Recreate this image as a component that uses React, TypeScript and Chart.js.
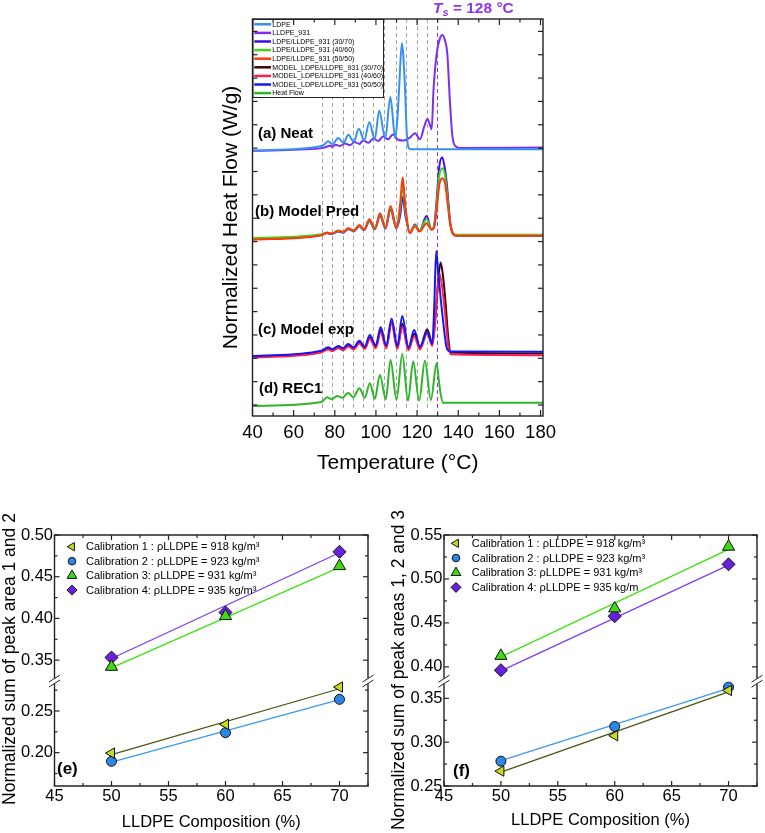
import { useEffect, useRef } from 'react';
import { Chart, registerables } from 'chart.js';

Chart.register(...registerables);

const FONT = "'Liberation Sans', Arial, Helvetica, sans-serif";

type Pt = [number, number];

// ---------- DSC melting traces: temperature (°C) vs stacked heat flow (offset units) ----------
const ldpe: Pt[] = [
  [40, 11.36], [73.0, 11.55], [74.8, 11.62], [76.8, 11.76], [78.8, 11.64], [81.7, 11.9], [84.2, 11.7],
  [86.6, 12.04], [89.2, 11.74], [91.7, 12.3], [94.3, 11.8], [96.8, 12.58], [99.4, 11.84], [101.6, 13.08],
  [104.5, 11.88], [107.0, 13.66], [109.4, 11.9], [110.4, 12.68], [111.3, 14.1], [112.6, 15.96], [114.1, 14.1],
  [114.9, 12.25], [115.7, 11.53], [117.0, 11.42], [181.2, 11.42],
];
const lldpe931: Pt[] = [
  [40, 11.36], [73.0, 11.46], [75.0, 11.5], [77.5, 11.57], [79.0, 11.53], [80.3, 11.62], [82.5, 11.56],
  [85.0, 11.67], [87.4, 11.6], [89.6, 11.73], [92.0, 11.65], [93.8, 11.8], [96.4, 11.7], [98.7, 11.88],
  [101.2, 11.78], [103.4, 11.97], [105.9, 11.85], [108.2, 12.05], [111.0, 11.82], [113.5, 11.8], [116.5, 11.92],
  [119.0, 12.11], [121.4, 11.85], [123.5, 12.4], [125.0, 12.72], [126.3, 12.45], [127.1, 12.28], [128.0, 14.0],
  [129.5, 15.5], [131.0, 16.15], [132.3, 16.32], [133.5, 16.1], [134.7, 15.5], [136.0, 13.4], [137.2, 11.96],
  [139.0, 11.53], [141.0, 11.48], [181.2, 11.5],
];
const pred3070: Pt[] = [
  [40, 7.57], [73.5, 7.75], [76.3, 7.84], [78.2, 7.79], [81.7, 7.9], [84.0, 7.85], [86.5, 8.0], [89.2, 7.91],
  [91.9, 8.12], [94.3, 7.96], [96.8, 8.34], [99.5, 8.0], [102.0, 8.58], [104.6, 8.03], [107.1, 8.82], [110.0, 8.03],
  [111.8, 8.6], [113.0, 9.39], [114.3, 8.6], [116.5, 7.85], [118.9, 8.2], [121.2, 7.93], [124.6, 8.56], [127.0, 8.0],
  [128.2, 8.1], [129.5, 9.25], [130.8, 10.68], [132.2, 11.08], [133.5, 10.6], [134.4, 9.98], [136.0, 8.39],
  [137.3, 7.84], [139.0, 7.72], [181.2, 7.72],
];
const pred4060: Pt[] = [
  [40, 7.62], [73.5, 7.78], [76.3, 7.86], [78.2, 7.81], [81.7, 7.92], [84.0, 7.87], [86.5, 8.02], [89.2, 7.93],
  [91.9, 8.15], [94.3, 7.98], [96.8, 8.38], [99.5, 8.02], [102.0, 8.63], [104.6, 8.05], [107.1, 8.9], [110.0, 8.05],
  [111.8, 8.9], [113.0, 9.85], [114.3, 8.8], [116.5, 7.86], [118.9, 8.17], [121.2, 7.93], [124.6, 8.42], [127.0, 8.02],
  [128.2, 8.08], [129.5, 9.05], [130.8, 10.3], [132.3, 10.61], [133.6, 10.3], [134.5, 9.6], [136.0, 8.3],
  [137.3, 7.84], [139.0, 7.76], [181.2, 7.76],
];
const pred5050: Pt[] = [
  [40, 7.55], [73.5, 7.74], [76.3, 7.85], [78.2, 7.8], [81.7, 7.94], [84.0, 7.88], [86.5, 8.04], [89.2, 7.94],
  [91.9, 8.18], [94.3, 7.99], [96.8, 8.42], [99.5, 8.03], [102.0, 8.68], [104.6, 8.06], [107.1, 8.99], [110.0, 8.06],
  [111.8, 9.1], [113.0, 10.22], [114.3, 9.0], [116.5, 7.83], [118.9, 8.12], [121.2, 7.9], [124.6, 8.25], [127.0, 7.98],
  [128.2, 8.05], [129.5, 8.8], [130.8, 9.9], [132.3, 10.18], [133.6, 9.95], [134.6, 9.3], [136.1, 8.2],
  [137.4, 7.8], [139.0, 7.72], [181.2, 7.72],
];
const model3070: Pt[] = [
  [40, 2.54], [73.5, 2.76], [76.8, 2.89], [78.9, 2.82], [81.7, 2.95], [84.0, 2.86], [86.5, 3.02], [89.2, 2.89],
  [91.9, 3.14], [94.6, 2.92], [97.0, 3.36], [99.9, 2.96], [102.3, 3.66], [105.0, 2.96], [107.6, 4.02], [110.4, 2.93],
  [112.8, 3.95], [115.8, 2.88], [118.6, 3.52], [121.4, 2.92], [124.9, 3.72], [127.4, 3.12], [128.7, 4.0],
  [130.1, 5.6], [131.4, 6.57], [132.6, 6.0], [133.8, 4.9], [135.1, 3.4], [136.4, 2.72], [181.2, 2.68],
];
const model4060: Pt[] = [
  [40, 2.5], [73.5, 2.72], [76.8, 2.85], [78.9, 2.78], [81.7, 2.91], [84.0, 2.82], [86.5, 2.98], [89.2, 2.85],
  [91.9, 3.1], [94.6, 2.87], [97.0, 3.3], [99.9, 2.9], [102.3, 3.58], [105.0, 2.9], [107.6, 3.97], [110.4, 2.87],
  [112.8, 3.82], [115.8, 2.82], [118.6, 3.4], [121.4, 2.85], [124.9, 3.54], [127.4, 3.0], [128.5, 3.8],
  [129.8, 5.3], [130.9, 6.1], [132.2, 5.5], [133.6, 4.4], [135.0, 3.1], [136.4, 2.64], [181.2, 2.6],
];
const model5050: Pt[] = [
  [40, 2.57], [73.5, 2.8], [76.8, 2.94], [78.9, 2.86], [81.7, 3.0], [84.0, 2.9], [86.5, 3.08], [89.2, 2.94],
  [91.9, 3.22], [94.6, 2.97], [97.0, 3.47], [99.9, 3.02], [102.3, 3.8], [105.0, 3.02], [107.6, 4.18], [110.4, 3.0],
  [112.8, 4.28], [115.8, 2.94], [118.6, 3.68], [121.4, 2.97], [124.9, 3.61], [127.4, 3.1], [128.3, 4.6],
  [129.3, 7.07], [130.3, 6.1], [131.5, 5.0], [132.6, 4.1], [134.3, 2.95], [136.0, 2.76], [181.2, 2.75],
];
const rec1: Pt[] = [
  [40, 0.43], [73.5, 0.6], [76.3, 0.8], [78.4, 0.72], [81.2, 0.86], [83.8, 0.78], [86.5, 1.0], [89.0, 0.8],
  [91.9, 1.19], [94.6, 0.78], [97.0, 1.4], [99.5, 0.74], [101.9, 1.76], [104.8, 0.72], [107.1, 2.4], [110.0, 0.69],
  [112.8, 2.66], [115.6, 0.66], [118.1, 2.33], [121.0, 0.66], [123.8, 2.37], [126.7, 0.69], [129.5, 2.26],
  [130.6, 1.5], [131.4, 0.97], [132.7, 0.56], [134.0, 0.57], [181.2, 0.57],
];

const curveLabels = [
  'LDPE', 'LLDPE_931', 'LDPE/LLDPE_931 (30/70)', 'LDPE/LLDPE_931 (40/60)', 'LDPE/LLDPE_931 (50/50)',
  'MODEL_LDPE/LLDPE_931 (30/70)', 'MODEL_LDPE/LLDPE_931 (40/60)', 'MODEL_LDPE/LLDPE_931 (50/50)', 'Heat Flow',
];
const curveSeries = [ldpe, lldpe931, pred3070, pred4060, pred5050, model3070, model4060, model5050, rec1];
const curveColors = ['#3590f3', '#7b2ff5', '#3d0cf2', '#46d21b', '#ff3a0a', '#3a0606', '#ff1f4f', '#1414ff', '#2fb52a'];
const curveOrder = [0, 1, 2, 1, 0, 2, 1, 0, 0];

const tempTicks = [40, 60, 80, 100, 120, 140, 160, 180];
const fractionTemps = [73.6, 78.5, 83.8, 88.7, 93.8, 98.7, 103.9, 109.6, 114.6, 119.8, 124.9];
const seedTemp = 129.8;
const flowTickStart = 0.47;
const panelTags = ['(a) Neat', '(b) Model Pred', '(c) Model exp', '(d) REC1'];

// ---------- peak-area sums vs LLDPE content ----------
const compositionPct = [50, 60, 70];
const fitEnds = [50, 70];
const compTicks = [45, 50, 55, 60, 65, 70];

const sum12Cal1 = [0.1995, 0.234, 0.2787];
const sum12Cal2 = [0.1896, 0.224, 0.264];
const sum12Cal3 = [0.342, 0.4028, 0.4627];
const sum12Cal4 = [0.3532, 0.4072, 0.4799];
const sum12Fit1 = [0.1976, 0.2767];
const sum12Fit2 = [0.1887, 0.2636];
const sum12Fit3 = [0.3408, 0.4611];
const sum12Fit4 = [0.352, 0.4787];

const sum123Cal1 = [0.267, 0.3074, 0.359];
const sum123Cal2 = [0.2783, 0.3179, 0.3628];
const sum123Cal3 = [0.4125, 0.4665, 0.5367];
const sum123Cal4 = [0.3962, 0.4577, 0.5166];
const sum123Fit1 = [0.2658, 0.3575];
const sum123Fit2 = [0.279, 0.3613];
const sum123Fit3 = [0.4114, 0.5337];
const sum123Fit4 = [0.3955, 0.5158];

const calLabelsE = [
  'Calibration 1 : ρLLDPE = 918 kg/m³', 'Calibration 2 : ρLLDPE = 923 kg/m³',
  'Calibration 3: ρLLDPE = 931 kg/m³', 'Calibration 4: ρLLDPE = 935 kg/m³',
];
const calLabelsF = [
  'Calibration 1 : ρLLDPE = 918 kg/m³', 'Calibration 2 : ρLLDPE = 923 kg/m³',
  'Calibration 3: ρLLDPE = 931 kg/m³', 'Calibration 4: ρLLDPE = 935 kg/m',
];
// calibrations 3 and 4 sit on the upper segment of the broken axis
const calOnUpper = [false, false, true, true];
const calMarkers = [
  { style: 'triangle', rotation: -90, radius: 6, fill: '#c9da1c' },
  { style: 'circle', rotation: 0, radius: 5, fill: '#2b87e6' },
  { style: 'triangle', rotation: 0, radius: 7, fill: '#40d914' },
  { style: 'rectRot', rotation: 0, radius: 6.5, fill: '#6a20df' },
];
const calLineColors = ['#4a5510', '#3b98f5', '#3be40e', '#7b3ff8'];

const TS_COLOR = '#8e35ef';

function seg(ctx: any, x1: number, y1: number, x2: number, y2: number) {
  ctx.beginPath();
  ctx.moveTo(x1, y1);
  ctx.lineTo(x2, y2);
  ctx.stroke();
}

function drawMarker(ctx: any, m: any, x: number, y: number, r: number) {
  ctx.beginPath();
  if (m.style === 'circle') {
    ctx.arc(x, y, r, 0, Math.PI * 2);
  } else if (m.style === 'rectRot') {
    ctx.moveTo(x, y - r);
    ctx.lineTo(x + r, y);
    ctx.lineTo(x, y + r);
    ctx.lineTo(x - r, y);
  } else {
    let a = (m.rotation * Math.PI) / 180;
    for (let k = 0; k < 3; k++) {
      const px = x + Math.sin(a) * r;
      const py = y - Math.cos(a) * r;
      if (k === 0) ctx.moveTo(px, py);
      else ctx.lineTo(px, py);
      a += (2 * Math.PI) / 3;
    }
  }
  ctx.closePath();
  ctx.fillStyle = m.fill;
  ctx.fill();
  ctx.strokeStyle = '#111';
  ctx.lineWidth = 1;
  ctx.stroke();
}

const dscDecor = {
  id: 'dscDecor',
  beforeDatasetsDraw(chart: any) {
    const { ctx, chartArea: a, scales } = chart;
    const x = scales.x;
    const y = scales.y;
    ctx.save();
    ctx.lineWidth = 1;
    ctx.setLineDash([4, 3]);
    ctx.strokeStyle = '#a3a3a3';
    const yEnd = y.getPixelForValue(0.35);
    for (const t of fractionTemps) {
      const px = Math.round(x.getPixelForValue(t)) + 0.5;
      seg(ctx, px, a.top, px, yEnd);
    }
    ctx.strokeStyle = TS_COLOR;
    const ps = Math.round(x.getPixelForValue(seedTemp)) + 0.5;
    seg(ctx, ps, a.top, ps, y.getPixelForValue(0.12));
    ctx.restore();
  },
  afterDraw(chart: any) {
    const { ctx, chartArea: a, scales } = chart;
    const x = scales.x;
    const y = scales.y;
    ctx.save();

    // legend box
    const lw = 130.5;
    const lh = 78;
    ctx.fillStyle = '#fff';
    ctx.fillRect(a.left, a.top, lw, lh);
    ctx.strokeStyle = '#222';
    ctx.lineWidth = 1;
    ctx.strokeRect(a.left + 0.5, a.top + 0.5, lw, lh);
    ctx.font = `7px ${FONT}`;
    ctx.textBaseline = 'middle';
    ctx.textAlign = 'left';
    curveLabels.forEach((lab, i) => {
      const yy = a.top + 5.3 + i * 8.6;
      ctx.strokeStyle = curveColors[i];
      ctx.lineWidth = 2.5;
      seg(ctx, a.left + 1.8, yy, a.left + 18.5, yy);
      ctx.fillStyle = '#000';
      ctx.fillText(lab, a.left + 19.8, yy + 0.3);
    });

    // frame and inward ticks
    ctx.strokeStyle = '#222';
    ctx.lineWidth = 1.4;
    ctx.strokeRect(a.left, a.top, a.right - a.left, a.bottom - a.top);
    ctx.lineWidth = 1.2;
    for (let t = 40; t <= x.max; t += 10) {
      const px = x.getPixelForValue(t);
      const len = t % 20 === 0 ? 6 : 3.5;
      seg(ctx, px, a.bottom, px, a.bottom - len);
      seg(ctx, px, a.top, px, a.top + len);
    }
    for (let k = 0; flowTickStart + k < y.max; k++) {
      const py = y.getPixelForValue(flowTickStart + k);
      seg(ctx, a.left, py, a.left + 5, py);
      seg(ctx, a.right, py, a.right - 5, py);
    }

    // panel tags
    ctx.fillStyle = '#000';
    ctx.font = `bold 15px ${FONT}`;
    const tagPos = [[258, 134], [255, 212], [258, 330], [259, 388.5]];
    panelTags.forEach((t, i) => ctx.fillText(t, tagPos[i][0], tagPos[i][1]));

    // seeding temperature label
    ctx.fillStyle = TS_COLOR;
    ctx.textBaseline = 'alphabetic';
    ctx.font = `italic bold 15.5px ${FONT}`;
    let tx = 433;
    ctx.fillText('T', tx, 13);
    tx += ctx.measureText('T').width;
    ctx.font = `italic bold 11px ${FONT}`;
    ctx.fillText('s', tx, 16);
    tx += ctx.measureText('s').width;
    ctx.font = `bold 15.5px ${FONT}`;
    ctx.fillText(' = 128 °C', tx, 13);

    // y title
    ctx.fillStyle = '#000';
    ctx.font = `21px ${FONT}`;
    ctx.textAlign = 'center';
    ctx.textBaseline = 'middle';
    ctx.translate(231, (a.top + a.bottom) / 2);
    ctx.rotate(-Math.PI / 2);
    ctx.fillText('Normalized Heat Flow (W/g)', 0, 0);
    ctx.restore();
  },
};

function dscConfig(): any {
  const datasets = curveSeries.map((d, i) => ({
    label: curveLabels[i],
    data: d.map(([t, v]) => ({ x: t, y: v })),
    borderColor: curveColors[i],
    backgroundColor: curveColors[i],
    borderWidth: 2,
    pointRadius: 0,
    cubicInterpolationMode: 'monotone',
    order: curveOrder[i],
  }));
  return {
    type: 'line',
    data: { datasets },
    plugins: [dscDecor],
    options: {
      animation: false,
      responsive: false,
      devicePixelRatio: 1,
      layout: { padding: { left: 252.5, right: 222, top: 19, bottom: 0 } },
      plugins: { legend: { display: false }, tooltip: { enabled: false } },
      scales: {
        x: {
          type: 'linear',
          min: 40,
          max: 181.2,
          grid: { display: false, drawTicks: false },
          border: { display: false },
          afterBuildTicks: (s: any) => { s.ticks = tempTicks.map((v) => ({ value: v })); },
          afterFit: (s: any) => { s.height = 64; },
          ticks: { font: { family: FONT, size: 18.5 }, color: '#000', padding: 6, maxRotation: 0, autoSkip: false },
          title: {
            display: true, text: 'Temperature (°C)', color: '#000',
            font: { family: FONT, size: 21 }, padding: { top: 0, bottom: 4.4 },
          },
        },
        y: { type: 'linear', display: false, min: 0, max: 17 },
      },
    },
  };
}

function compDecor(p: any) {
  return {
    id: 'compDecor',
    afterDraw(chart: any) {
      const { ctx, chartArea: a, scales } = chart;
      const x = scales.x;
      const hi = scales.yHi;
      const lo = scales.yLo;
      const yb = hi.bottom;
      ctx.save();
      ctx.strokeStyle = '#222';
      ctx.lineWidth = 1.4;
      seg(ctx, a.left - 0.7, a.top, a.right + 0.7, a.top);
      seg(ctx, a.left - 0.7, a.bottom, a.right + 0.7, a.bottom);
      for (const sx of [a.left, a.right]) {
        seg(ctx, sx, a.top, sx, yb - 2.5);
        seg(ctx, sx, yb + 2.5, sx, a.bottom);
      }
      ctx.lineWidth = 1;
      for (const sx of [a.left, a.right]) {
        for (const d of [-2.5, 2.5]) seg(ctx, sx - 5.5, yb + d + 3.5, sx + 5.5, yb + d - 3.5);
      }
      ctx.lineWidth = 1.2;
      for (let k = Math.ceil(x.min / 2.5); k * 2.5 <= x.max + 1e-9; k++) {
        const v = k * 2.5;
        const px = x.getPixelForValue(v);
        const len = k % 2 === 0 ? 5 : 3;
        seg(ctx, px, a.bottom, px, a.bottom - len);
        seg(ctx, px, a.top, px, a.top + len);
      }
      for (const s of [hi, lo]) {
        const k0 = Math.ceil(s.min / 0.025 - 1e-6);
        const k1 = Math.floor(s.max / 0.025 + 1e-6);
        for (let k = k0; k <= k1; k++) {
          const py = s.getPixelForValue(k * 0.025);
          if (Math.abs(py - yb) < 4) continue;
          const len = k % 2 === 0 ? 5 : 3;
          seg(ctx, a.left, py, a.left + len, py);
          seg(ctx, a.right, py, a.right - len, py);
        }
      }

      // legend
      ctx.font = `11px ${FONT}`;
      ctx.textBaseline = 'middle';
      ctx.textAlign = 'left';
      p.legend.forEach((lab: string, i: number) => {
        const yy = p.legendY + i * p.legendStep;
        const m = calMarkers[i];
        drawMarker(ctx, m, p.legendMarkX, yy, [4.8, 3.8, 5.6, 5][i]);
        ctx.fillStyle = '#000';
        ctx.fillText(lab, p.legendTextX, yy + 0.5);
      });

      // panel tag
      ctx.font = `bold 17px ${FONT}`;
      ctx.fillStyle = '#000';
      ctx.fillText(p.tag, p.tagX, p.tagY);

      // y title
      ctx.font = `17.5px ${FONT}`;
      ctx.textAlign = 'center';
      ctx.translate(p.yTitleX, p.yTitleY);
      ctx.rotate(-Math.PI / 2);
      ctx.fillText(p.yTitle, 0, 0);
      ctx.restore();
    },
  };
}

function compConfig(p: any): any {
  const datasets: any[] = [];
  p.points.forEach((vals: number[], i: number) => {
    const m = calMarkers[i];
    datasets.push({
      label: p.legend[i],
      data: compositionPct.map((c, j) => ({ x: c, y: vals[j] })),
      yAxisID: calOnUpper[i] ? 'yHi' : 'yLo',
      showLine: false,
      pointStyle: m.style,
      rotation: m.rotation,
      pointRadius: m.radius,
      pointBackgroundColor: m.fill,
      pointBorderColor: '#111',
      pointBorderWidth: 1,
      order: 0,
    });
  });
  p.fits.forEach((vals: number[], i: number) => {
    datasets.push({
      label: `fit ${i + 1}`,
      data: fitEnds.map((c, j) => ({ x: c, y: vals[j] })),
      yAxisID: calOnUpper[i] ? 'yHi' : 'yLo',
      borderColor: calLineColors[i],
      borderWidth: 1.3,
      pointRadius: 0,
      order: 1,
    });
  });
  const yTick = { font: { family: FONT, size: 16.5 }, color: '#000', padding: 1.5, autoSkip: false, callback: (v: number) => v.toFixed(2) };
  return {
    type: 'line',
    data: { datasets },
    plugins: [compDecor(p)],
    options: {
      animation: false,
      responsive: false,
      devicePixelRatio: 1,
      layout: { padding: { left: 0, right: p.padRight, top: 55, bottom: 0 } },
      plugins: { legend: { display: false }, tooltip: { enabled: false } },
      scales: {
        x: {
          type: 'linear',
          min: 45,
          max: 72.5,
          grid: { display: false, drawTicks: false },
          border: { display: false },
          afterBuildTicks: (s: any) => { s.ticks = compTicks.map((v) => ({ value: v })); },
          afterFit: (s: any) => { s.height = 47; },
          ticks: { font: { family: FONT, size: 16.5 }, color: '#000', padding: 1, maxRotation: 0, autoSkip: false },
          title: {
            display: true, text: 'LLDPE Composition (%)', color: '#000',
            font: { family: FONT, size: 16.5 }, padding: { top: 0, bottom: p.xTitlePad },
          },
        },
        yHi: {
          type: 'linear', position: 'left', stack: 'broken', stackWeight: p.hiWeight, weight: 2,
          min: p.hiRange[0], max: p.hiRange[1],
          grid: { display: false, drawTicks: false }, border: { display: false },
          afterBuildTicks: (s: any) => { s.ticks = p.hiTicks.map((v: number) => ({ value: v })); },
          afterFit: (s: any) => { s.width = p.axisWidth; },
          ticks: yTick,
        },
        yLo: {
          type: 'linear', position: 'left', stack: 'broken', stackWeight: p.loWeight, weight: 1,
          min: p.loRange[0], max: p.loRange[1],
          grid: { display: false, drawTicks: false }, border: { display: false },
          afterBuildTicks: (s: any) => { s.ticks = p.loTicks.map((v: number) => ({ value: v })); },
          afterFit: (s: any) => { s.width = p.axisWidth; },
          ticks: yTick,
        },
      },
    },
  };
}

const panelE = {
  points: [sum12Cal1, sum12Cal2, sum12Cal3, sum12Cal4],
  fits: [sum12Fit1, sum12Fit2, sum12Fit3, sum12Fit4],
  hiRange: [0.325, 0.5], loRange: [0.16, 0.286], hiWeight: 146, loWeight: 105,
  hiTicks: [0.35, 0.4, 0.45, 0.5], loTicks: [0.2, 0.25],
  legend: calLabelsE, legendMarkX: 72, legendTextX: 86, legendY: 66.7, legendStep: 14.45,
  tag: '(e)', tagX: 57, tagY: 289,
  yTitle: 'Normalized sum of peak area 1 and 2', yTitleX: 10, yTitleY: 179,
  axisWidth: 54.5, padRight: 12, xTitlePad: 0.5,
};
const panelF = {
  points: [sum123Cal1, sum123Cal2, sum123Cal3, sum123Cal4],
  fits: [sum123Fit1, sum123Fit2, sum123Fit3, sum123Fit4],
  hiRange: [0.3837, 0.55], loRange: [0.25, 0.3696], hiWeight: 146, loWeight: 104.7,
  hiTicks: [0.4, 0.45, 0.5, 0.55], loTicks: [0.25, 0.3, 0.35],
  legend: calLabelsF, legendMarkX: 76, legendTextX: 91.7, legendY: 63.3, legendStep: 14.7,
  tag: '(f)', tagX: 73, tagY: 291.7,
  yTitle: 'Normalized sum of peak areas 1, 2 and 3', yTitleX: 19, yTitleY: 190,
  axisWidth: 64, padRight: 6.7, xTitlePad: 3,
};

export default function App() {
  const dscRef = useRef<HTMLCanvasElement>(null);
  const eRef = useRef<HTMLCanvasElement>(null);
  const fRef = useRef<HTMLCanvasElement>(null);

  useEffect(() => {
    const charts = [
      new Chart(dscRef.current as HTMLCanvasElement, dscConfig()),
      new Chart(eRef.current as HTMLCanvasElement, compConfig(panelE)),
      new Chart(fRef.current as HTMLCanvasElement, compConfig(panelF)),
    ];
    return () => charts.forEach((c) => c.destroy());
  }, []);

  return (
    <div style={{ position: 'absolute', left: 0, top: 0, width: 765, height: 833, background: '#fff', overflow: 'hidden' }}>
      <canvas ref={dscRef} width={765} height={480} style={{ position: 'absolute', left: 0, top: 0, width: 765, height: 480 }} />
      <canvas ref={eRef} width={380} height={353} style={{ position: 'absolute', left: 0, top: 480, width: 380, height: 353 }} />
      <canvas ref={fRef} width={385} height={353} style={{ position: 'absolute', left: 380, top: 480, width: 385, height: 353 }} />
    </div>
  );
}
